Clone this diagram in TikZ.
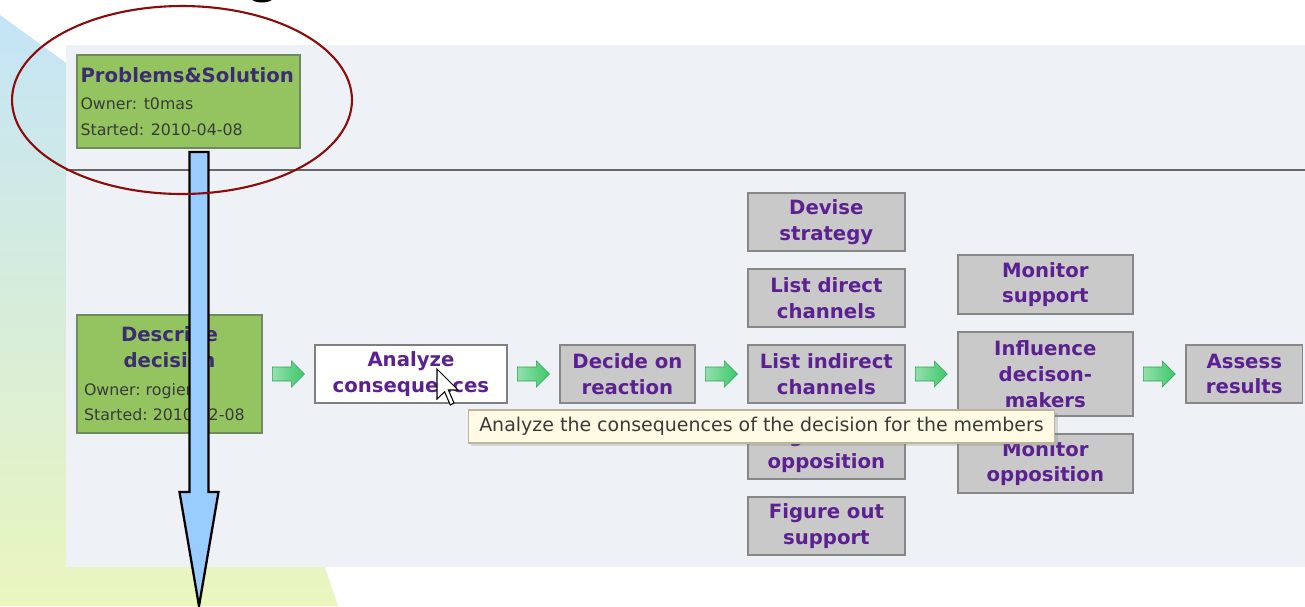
\documentclass[tikz,border=0pt]{standalone}
\usepackage{fontspec}
\newfontfamily\uifont{DejaVu Sans}
\usetikzlibrary{positioning, calc, shadows}
\frenchspacing

\definecolor{panelbg}{HTML}{EEF2F7}
\definecolor{phasegreen}{RGB}{148,196,96}
\definecolor{phaseline}{RGB}{112,138,96}
\definecolor{taskgray}{RGB}{201,201,201}
\definecolor{taskline}{RGB}{135,135,135}
\definecolor{taskpurple}{RGB}{92,33,145}
\definecolor{phasepurple}{RGB}{60,45,115}
\definecolor{infogray}{RGB}{58,58,58}
\definecolor{tipfill}{RGB}{255,250,228}
\definecolor{tipline}{RGB}{190,182,155}
\definecolor{flowgreen}{RGB}{60,200,105}
\definecolor{dropblue}{RGB}{153,204,255}
\definecolor{ringred}{RGB}{140,12,12}
\definecolor{skyblue}{RGB}{196,228,246}
\definecolor{mintish}{RGB}{214,238,228}
\definecolor{limegreen}{RGB}{234,246,190}

\newcommand{\titlesize}{\fontsize{11.2}{14.7}\selectfont}
\newcommand{\infosize}{\fontsize{9}{14.2}\selectfont}
\newcommand{\infoline}[1]{{\infosize\mdseries\color{infogray}#1}}

\tikzset{
    phase/.style={rectangle, draw=phaseline, fill=phasegreen, line width=0.8pt, inner sep=0pt, outer sep=0pt, font=\uifont\titlesize\bfseries, text=phasepurple},
    task/.style={rectangle, draw=taskline, fill=taskgray, line width=0.8pt, minimum height=1.16cm, inner sep=0pt, outer sep=0pt, align=center, font=\uifont\titlesize\bfseries, text=taskpurple},
    current/.style={task, fill=white, draw=gray},
    tooltip/.style={rectangle, draw=tipline, fill=tipfill, line width=0.6pt, inner sep=0pt, font=\uifont\fontsize{10.8}{12}\selectfont, text=infogray, drop shadow={shadow xshift=1.5pt, shadow yshift=-1.5pt, opacity=0.25}},
    flowarr/.style={left color=flowgreen!55!white, right color=flowgreen, draw=flowgreen!80!black, line width=0.3pt},
    droparrow/.style={fill=dropblue, draw=black, line width=1.3pt, line join=miter},
    cursor/.style={fill=white, draw=black, line width=0.6pt, line join=miter},
    ring/.style={draw=ringred, line width=1.2pt},
    sepline/.style={draw=black!60, line width=1.2pt},
}

% green step arrow half way between two boxes
\newcommand{\flowarrow}[2]{%
    \coordinate (mid) at ($(#1.east)!0.5!(#2.west)$);
    \draw[flowarr] ($(mid)+(-16,-7)$) -- ($(mid)+(3,-7)$) -- ($(mid)+(3,-13)$) -- ($(mid)+(16,0)$) -- ($(mid)+(3,13)$) -- ($(mid)+(3,7)$) -- ($(mid)+(-16,7)$) -- cycle;
}

\begin{document}
\begin{tikzpicture}[x=0.02cm, y=-0.02cm, node distance=0.36cm and 1.06cm]
    \useasboundingbox (0,0) rectangle (1305,606);
    % backdrop
    \fill[white] (0,0) rectangle (1305,606);
    \shade[top color=skyblue, middle color=mintish, bottom color=limegreen] (0,15) -- (120,102) -- (325,567) -- (338,606) -- (0,606) -- cycle;
    \fill[black] (262,-2) ellipse [x radius=0.22cm, y radius=0.09cm];
    \fill[panelbg] (66,45) rectangle (1305,567);
    \draw[sepline] (66,170) -- (1305,170);

    % phases
    \node[phase, minimum width=4.46cm, minimum height=1.86cm, align=left, text width=4.32cm] (ps) at (188.5,101.5)
        {Problems\&Solution\\[1pt]\infoline{Owner: t0mas}\\\infoline{Started: 2010-04-08}};
    \node[phase, minimum width=3.7cm, minimum height=2.36cm, align=center] (desc) at (169.5,374)
        {Describe\\decision\\[1pt]\makebox[3.42cm][l]{\infoline{Owner: rogier}}\\\makebox[3.42cm][l]{\infoline{Started: 2010-02-08}}};

    % steps
    \node[current, minimum width=3.84cm] (analyze) [right=of desc] {Analyze\\consequences};
    \node[task, minimum width=2.7cm] (decide) [right=of analyze] {Decide on\\reaction};
    \node[task, minimum width=3.14cm] (listind) [right=of decide] {List indirect\\channels};
    \node[task, minimum width=3.14cm] (listdir) [above=of listind] {List direct\\channels};
    \node[task, minimum width=3.14cm] (devise) [above=of listdir] {Devise\\strategy};
    \node[task, minimum width=3.14cm] (figopp) [below=of listind] {Figure out\\opposition};
    \node[task, minimum width=3.14cm] (figsup) [below=of figopp] {Figure out\\support};
    \node[task, minimum width=3.5cm, minimum height=1.68cm] (influence) [right=of listind] {Influence\\decison-\\makers};
    \node[task, minimum width=3.5cm, minimum height=1.18cm] (monsup) [above=of influence] {Monitor\\support};
    \node[task, minimum width=3.5cm, minimum height=1.18cm] (monopp) [below=of influence] {Monitor\\opposition};
    \node[task, minimum width=2.34cm] (assess) [right=of influence] {Assess\\results};

    \flowarrow{desc}{analyze}
    \flowarrow{analyze}{decide}
    \flowarrow{decide}{listind}
    \flowarrow{listind}{influence}
    \flowarrow{influence}{assess}

    % hover hint and mouse pointer
    \node[tooltip, minimum width=11.74cm, minimum height=0.66cm] (hint) at (761.5,426.5)
        {Analyze the consequences of the decision for the members};
    \coordinate (pointer) at (437,369);
    \draw[cursor] (pointer) -- ++(0,30) -- ++(7.6,-7.2) -- ++(5.7,13.2) -- ++(3.7,-2) -- ++(-5.6,-13) -- ++(9.6,0) -- cycle;

    % big arrow out of the phase
    \coordinate (droptop) at ($(ps.south)+(10.5,4)$);
    \coordinate (droptip) at (199,606);
    \draw[droparrow] ($(droptop)+(-9.5,0)$) -- ($(droptop)+(9.5,0)$) -- ($(droptip)+(9.5,-114)$) -- ($(droptip)+(19.5,-114)$) -- (droptip) -- ($(droptip)+(-19.5,-114)$) -- ($(droptip)+(-9.5,-114)$) -- cycle;
    \draw[ring] (182,100) ellipse [x radius=3.4cm, y radius=1.88cm];
\end{tikzpicture}
\end{document}
